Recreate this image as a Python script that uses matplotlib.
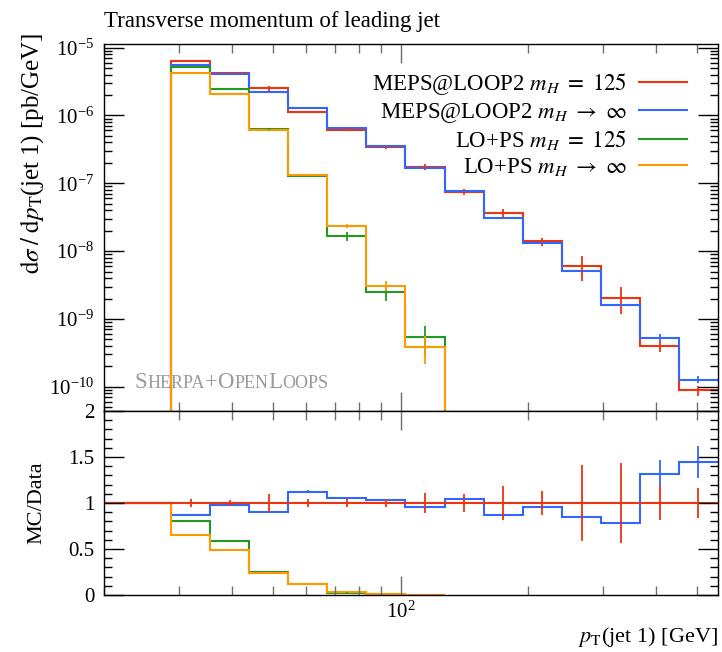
import numpy as np
import matplotlib
matplotlib.use("Agg")
import matplotlib.pyplot as plt
from matplotlib.ticker import (LogLocator, LogFormatterMathtext, NullFormatter,
                               FixedLocator, FixedFormatter, MultipleLocator)
from matplotlib.offsetbox import TextArea, HPacker, AnchoredOffsetbox

plt.rcParams['font.family'] = ['Liberation Serif', 'DejaVu Serif']
plt.rcParams['mathtext.fontset'] = 'stix'

# ---------------- data ----------------
bin_edges = [20, 28.8, 35.6, 44.0, 54.4, 67.2, 83.1, 102.7, 127, 157, 194, 240, 297, 367, 453, 560]

meps_125 = [0, 6.38e-6, 4.20e-6, 2.50e-6, 1.13e-6, 6.20e-7, 3.37e-7, 1.75e-7, 7.48e-8,
            3.60e-8, 1.39e-8, 6.07e-9, 2.05e-9, 4.03e-10, 8.85e-11]
meps_125_relerr = [0, 0.04, 0.033, 0.10, 0.04, 0.04, 0.045, 0.112, 0.094,
                   0.18, 0.13, 0.41, 0.43, 0.185, 0.167]

meps_inf = [0, 5.57e-6, 4.10e-6, 2.25e-6, 1.27e-6, 6.52e-7, 3.49e-7, 1.67e-7, 7.78e-8,
            3.13e-8, 1.33e-8, 5.17e-9, 1.60e-9, 5.32e-10, 1.28e-10]
meps_inf_relerr = [0, 0.01, 0.01, 0.01, 0.012, 0.012, 0.012, 0.015, 0.015,
                   0.02, 0.02, 0.03, 0.03, 0.11, 0.12]

lops_125 = [0, 5.15e-6, 2.47e-6, 6.28e-7, 1.29e-7, 1.68e-8, 2.46e-9, 5.36e-10, 0,
            0, 0, 0, 0, 0, 0]
lops_125_relerr = [0, 0.01, 0.015, 0.02, 0.03, 0.15, 0.25, 0.45, 0,
                   0, 0, 0, 0, 0, 0]

lops_inf = [0, 4.16e-6, 2.04e-6, 6.07e-7, 1.32e-7, 2.35e-8, 3.08e-9, 3.90e-10, 0,
            0, 0, 0, 0, 0, 0]
lops_inf_relerr = [0, 0.01, 0.015, 0.02, 0.03, 0.07, 0.16, 0.45, 0,
                   0, 0, 0, 0, 0, 0]

labels = [r'MEPS@LOOP2 $m_H\ =\ 125$', r'MEPS@LOOP2 $m_H\ \to\ \infty$',
          r'LO+PS $m_H\ =\ 125$', r'LO+PS $m_H\ \to\ \infty$']
colors = ['#ee3311', '#3366ff', '#229922', '#ff9900']

ratio_yticks = [0, 0.5, 1, 1.5, 2]
ratio_yticklabels = ['0', '0.5', '1', '1.5', '2']

# ---------------- figure ----------------
W, H = 722, 652
fig = plt.figure(figsize=(W / 100, H / 100), dpi=100)
L, R = 104 / W, 718 / W
ax = fig.add_axes([L, 1 - 411 / H, R - L, (411 - 44) / H])
axr = fig.add_axes([L, 1 - 595 / H, R - L, (595 - 411) / H], sharex=ax)

edges = np.array(bin_edges)
centers = np.sqrt(edges[:-1] * edges[1:])
ref = np.array(meps_125)

series = [(meps_125, meps_125_relerr), (meps_inf, meps_inf_relerr),
          (lops_125, lops_125_relerr), (lops_inf, lops_inf_relerr)]

lw = 1.5
ax.set_yscale('log', nonpositive='clip')
ax.set_xscale('log')
for (vals, rel), c, lab in zip(series, colors, labels):
    v = np.array(vals)
    r = np.array(rel)
    ax.stairs(v, edges, color=c, lw=lw, baseline=None, label=lab)
    m = v > 0
    ax.errorbar(centers[m], v[m], yerr=v[m] * r[m], fmt='none', ecolor=c, elinewidth=1.3, capsize=0)

# ratio panel: others first, reference last (on top)
order = [1, 2, 3, 0]
for i in order:
    vals, rel = series[i]
    v = np.array(vals)
    r = np.array(rel)
    ratio = np.where(ref > 0, v / np.where(ref > 0, ref, 1), 1.0)
    if i == 0:
        axr.stairs(ratio, edges, color=colors[i], lw=lw, baseline=None)
    else:
        nb = int(np.max(np.nonzero((v > 0) | (ref == 0))[0])) + 1
        axr.stairs(ratio[:nb], edges[:nb + 1], color=colors[i], lw=lw, baseline=None)
    m = v > 0
    axr.errorbar(centers[m], ratio[m], yerr=ratio[m] * r[m], fmt='none', ecolor=colors[i],
                 elinewidth=1.3, capsize=0)

# ---------------- axes styling ----------------
ax.set_xlim(bin_edges[0], bin_edges[-1])
ax.set_ylim(4.4e-11, 1.13e-5)
axr.set_ylim(0, 2)

xtick_col = '#6e6e6e'
for a in (ax, axr):
    a.tick_params(axis='both', which='both', direction='in', top=True, right=True, labelsize=15)
    a.tick_params(axis='x', which='major', length=13.5, width=1.0, color=xtick_col)
    a.tick_params(axis='x', which='minor', length=6.2, width=1.0, color=xtick_col)
    a.tick_params(axis='y', which='major', length=14.4, width=1.0, color='black', pad=7)
    a.tick_params(axis='y', which='minor', length=5.8, width=1.0, color='black')
    for s in a.spines.values():
        s.set_linewidth(1.0)

ax.xaxis.set_major_locator(LogLocator(base=10))
ax.xaxis.set_minor_locator(LogLocator(base=10, subs=np.arange(2, 10)))
ax.yaxis.set_major_locator(LogLocator(base=10, numticks=20))
ax.yaxis.set_minor_locator(LogLocator(base=10, subs=np.arange(2, 10), numticks=20))
ax.yaxis.set_major_formatter(LogFormatterMathtext())
ax.yaxis.set_minor_formatter(NullFormatter())
ax.tick_params(axis='x', which='both', labelbottom=False)

axr.xaxis.set_major_formatter(LogFormatterMathtext())
axr.xaxis.set_minor_formatter(NullFormatter())
axr.yaxis.set_major_locator(FixedLocator(ratio_yticks))
axr.yaxis.set_major_formatter(FixedFormatter(ratio_yticklabels))
axr.yaxis.set_minor_locator(MultipleLocator(0.1))
axr.tick_params(axis='x', which='major', pad=5)

ax.set_ylabel(r'$\mathrm{d}\sigma\;/\;\mathrm{d}p_\mathrm{T}$(jet 1) [pb/GeV]', fontsize=18, loc='top')
ax.yaxis.set_label_coords(-0.094, 1.03)
axr.set_ylabel('MC/Data', fontsize=16)
axr.yaxis.set_label_coords(-0.094, 0.5)
axr.set_xlabel(r'$p_\mathrm{T}$(jet 1) [GeV]', fontsize=16, loc='right', labelpad=1)
ax.set_title('Transverse momentum of leading jet', loc='left', fontsize=16.5, pad=12)

leg = ax.legend(loc='upper right', bbox_to_anchor=(0.9495, 0.925), frameon=False,
                markerfirst=False, fontsize=16.5, handlelength=2.1, handletextpad=0.52,
                labelspacing=0.15, borderpad=0, borderaxespad=0)

# Sherpa+OpenLoops small-caps label
gray = '#9a9a9a'
big, small = 16.5, 13
parts = [('S', big), ('HERPA', small), ('+', big), ('O', big), ('PEN', small), ('L', big), ('OOPS', small)]
boxes = [TextArea(t, textprops=dict(color=gray, fontsize=s)) for t, s in parts]
pack = HPacker(children=boxes, align='baseline', pad=0, sep=0)
anch = AnchoredOffsetbox(loc='lower left', child=pack, pad=0, borderpad=0, frameon=False,
                         bbox_to_anchor=(0.05, 0.05), bbox_transform=ax.transAxes)
ax.add_artist(anch)

fig.savefig('out.png', dpi=100)
